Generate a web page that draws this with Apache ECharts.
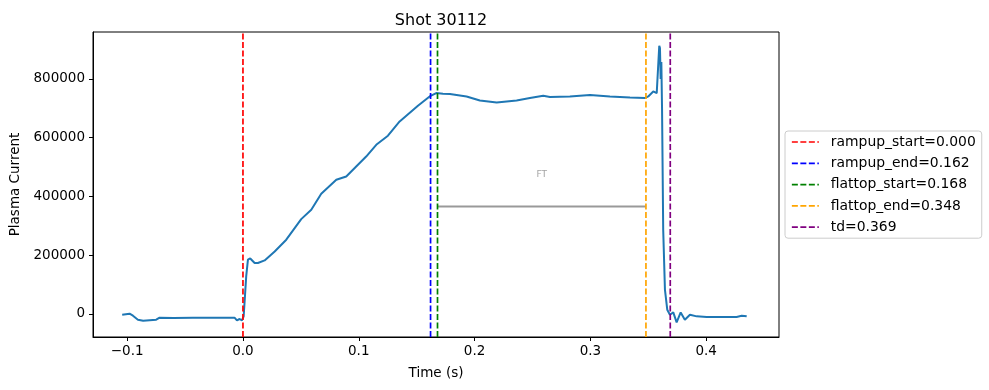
<!DOCTYPE html>
<html>
<head>
<meta charset="utf-8">
<script src="https://cdn.jsdelivr.net/npm/echarts@6/dist/echarts.min.js"></script>
<style>html,body{margin:0;padding:0;background:#fff;}#c{width:989px;height:390px;}</style>
</head>
<body>
<div id="c"></div>
<script>
// ---- data ----
const timeS = [-0.1043, -0.0979, -0.0950, -0.0907, -0.0862, -0.0749, -0.0720, -0.0600, -0.0432, -0.0248, -0.0073, -0.0052, -0.0029, -0.0009, 0.0006, 0.0028, 0.0043, 0.0063, 0.0101, 0.0129, 0.0187, 0.0274, 0.0374, 0.0503, 0.0590, 0.0676, 0.0806, 0.0892, 0.0978, 0.1064, 0.1151, 0.1252, 0.1353, 0.1511, 0.1612, 0.1669, 0.1727, 0.1787, 0.1931, 0.2046, 0.2191, 0.2363, 0.2478, 0.2593, 0.2651, 0.2823, 0.2997, 0.3169, 0.3342, 0.3471, 0.3486, 0.3500, 0.3543, 0.3573, 0.3590, 0.3595, 0.3601, 0.3607, 0.3613, 0.3619, 0.3629, 0.3644, 0.3664, 0.3687, 0.3716, 0.3745, 0.3780, 0.3816, 0.3860, 0.3918, 0.4004, 0.4119, 0.4263, 0.4307, 0.4350];
const plasmaCurrent = [-2400, 1000, -5800, -19400, -22800, -19400, -12600, -13500, -12600, -13000, -12600, -21700, -17000, -21700, -8000, 128000, 185000, 189000, 173500, 173500, 182500, 213000, 253000, 323000, 355000, 409500, 457000, 468000, 502000, 536000, 576000, 607000, 655500, 709000, 740700, 752000, 750000, 749000, 740700, 727000, 720000, 727000, 735000, 743000, 738700, 740700, 745500, 740700, 737000, 735000, 729500, 740700, 757700, 752000, 746500, 913000, 905000, 800000, 858000, 700000, 287000, 83000, 14600, -2400, 5400, -28600, 5400, -19400, -2400, -8000, -10200, -10200, -10200, -5800, -8000];
const eventNames = ['rampup_start', 'rampup_end', 'flattop_start', 'flattop_end', 'td'];
const eventTimes = [0.000, 0.162, 0.168, 0.348, 0.369];
const eventColors = ['#ff0000', '#0000ff', '#008000', '#ffa500', '#800080'];
const ftStart = 0.168, ftEnd = 0.348, ftLevel = 366000, ftLabelLevel = 476000;
const xTicks = [-0.1, 0.0, 0.1, 0.2, 0.3, 0.4];
const yTicks = [0, 200000, 400000, 600000, 800000];
const xMin = -0.1295, xMax = 0.4629, yMin = -78300, yMax = 960000;

const chart = echarts.init(document.getElementById('c'));
const font = 'DejaVu Sans';
const series = [];
series.push({
  name: 'Ip', type: 'line', data: timeS.map((t, i) => [t, plasmaCurrent[i]]),
  showSymbol: false, symbol: 'none', lineStyle: { color: '#1f77b4', width: 2 }, z: 3, silent: true
});
eventNames.forEach((n, i) => {
  series.push({
    name: n + '=' + eventTimes[i].toFixed(3), type: 'line', symbol: 'none',
    data: [[eventTimes[i], yMin], [eventTimes[i], yMax]],
    lineStyle: { color: eventColors[i], width: 1.7, type: [6, 2.5] },
    itemStyle: { color: eventColors[i] }, z: 4, silent: true
  });
});
series.push({
  name: 'FTline', type: 'line', symbol: 'none', data: [[ftStart, ftLevel], [ftEnd, ftLevel]],
  lineStyle: { color: '#999999', width: 2.2 }, z: 2, silent: true
});
series.push({
  name: 'FTlabel', type: 'scatter', symbolSize: 0, data: [[(ftStart + ftEnd) / 2, ftLabelLevel]],
  label: { show: true, position: 'inside', formatter: 'FT', color: '#8c8c8c', fontSize: 9, fontFamily: font },
  silent: true
});

chart.setOption({
  animation: false,
  title: { text: 'Shot 30112', left: 436, top: 8, textAlign: 'center',
    textStyle: { fontFamily: font, fontSize: 16, fontWeight: 'normal', color: '#000' } },
  grid: { left: 93, right: 210, top: 32, bottom: 53, show: true, borderColor: '#000', borderWidth: 1 },
  legend: {
    data: eventNames.map((n, i) => n + '=' + eventTimes[i].toFixed(3)),
    orient: 'vertical', left: 785, top: 131,
    itemWidth: 27, itemHeight: 14, itemGap: 7.3,
    padding: [4, 6, 4, 6],
    borderColor: '#cccccc', borderWidth: 1, borderRadius: 3, backgroundColor: 'rgba(255,255,255,0.8)',
    textStyle: { fontFamily: font, fontSize: 13.9, color: '#000', padding: [0, 0, 0, 7] },
    itemStyle: { opacity: 0 },
    lineStyle: { type: 'inherit', width: 1.7 },
    selectedMode: false
  },
  xAxis: {
    type: 'value', min: xMin, max: xMax,
    name: 'Time (s)', nameLocation: 'middle', nameGap: 29,
    nameTextStyle: { fontFamily: font, fontSize: 13.5, color: '#000' },
    axisLine: { show: true, onZero: false, lineStyle: { color: '#000' } },
    axisTick: { show: true, length: 4, customValues: xTicks, lineStyle: { color: '#000' } },
    axisLabel: { customValues: xTicks, margin: 7, fontFamily: font, fontSize: 13.5, color: '#000',
      formatter: v => (v < 0 ? '\u2212' : '') + Math.abs(v).toFixed(1) },
    splitLine: { show: false }
  },
  yAxis: {
    type: 'value', min: yMin, max: yMax,
    name: 'Plasma Current', nameLocation: 'middle', nameGap: 70,
    nameTextStyle: { fontFamily: font, fontSize: 13.5, color: '#000' },
    axisLine: { show: true, onZero: false, lineStyle: { color: '#000' } },
    axisTick: { show: true, length: 4, customValues: yTicks, lineStyle: { color: '#000' } },
    axisLabel: { customValues: yTicks, margin: 8, fontFamily: font, fontSize: 13.5, color: '#000',
      formatter: v => String(Math.round(v)) },
    splitLine: { show: false }
  },
  series: series
});
</script>
</body>
</html>
